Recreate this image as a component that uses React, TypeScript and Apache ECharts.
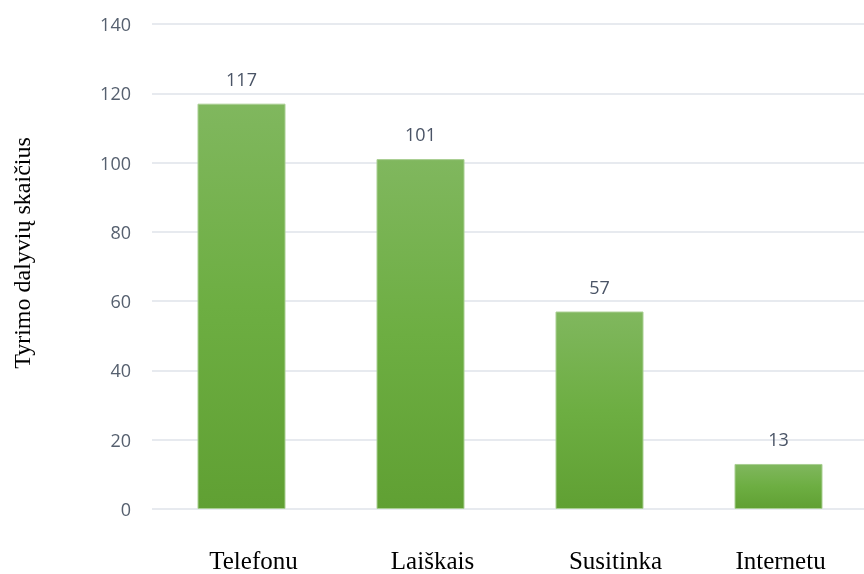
import React, { useEffect, useRef } from "react";
import * as echarts from "echarts";

const categories = ["Telefonu", "Laiškais", "Susitinka", "Internetu"];
const values = [117, 101, 57, 13];
const yAxisName = "Tyrimo dalyvių skaičius";

// horizontal shifts of the category captions relative to the bar centres (px)
const captionShift = [12, 12, 16, 2];

export default function App() {
  const ref = useRef<HTMLDivElement>(null);
  useEffect(() => {
    if (!ref.current) return;
    const chart = echarts.init(ref.current, undefined, { renderer: "svg" });
    chart.setOption({
      animation: false,
      grid: { left: 152, right: 0, top: 24, bottom: 65 },
      graphic: [
        {
          type: "text",
          x: 22,
          y: 253,
          rotation: Math.PI / 2,
          style: {
            text: yAxisName,
            fontFamily: "Liberation Serif",
            fontSize: 24,
            fill: "#000",
            align: "center",
            verticalAlign: "middle",
          },
        },
      ],
      xAxis: {
        type: "category",
        data: categories.map((c, i) => ({
          value: c,
          textStyle: { padding: [0, 0, 0, captionShift[i] * 2] },
        })),
        axisLine: { show: false },
        axisTick: { show: false },
        axisLabel: {
          margin: 39,
          fontFamily: "Liberation Serif",
          fontSize: 25,
          color: "#000",
        },
      },
      yAxis: {
        type: "value",
        min: 0,
        max: 140,
        interval: 20,
        axisLine: { show: false },
        axisTick: { show: false },
        axisLabel: {
          margin: 21,
          fontFamily: "Open Sans",
          fontSize: 18,
          color: "#56606f",
        },
        splitLine: { lineStyle: { color: "#dfe3ea", width: 1.5 } },
      },
      series: [
        {
          type: "bar",
          data: values,
          barWidth: 88,
          itemStyle: {
            color: new echarts.graphic.LinearGradient(0, 0, 0, 1, [
              { offset: 0, color: "#80b75e" },
              { offset: 0.5, color: "#6dae42" },
              { offset: 1, color: "#60a033" },
            ]),
            borderColor: "#a9cf92",
            borderWidth: 1,
          },
          label: {
            show: true,
            position: "top",
            distance: 16,
            fontFamily: "Open Sans",
            fontSize: 18,
            color: "#4a5466",
          },
        },
      ],
    });
    return () => chart.dispose();
  }, []);
  return (
    <div style={{ width: 864, height: 574, position: "fixed", left: 0, top: 0, overflow: "hidden" }}>
      <div ref={ref} style={{ width: 868, height: 574 }} />
    </div>
  );
}
